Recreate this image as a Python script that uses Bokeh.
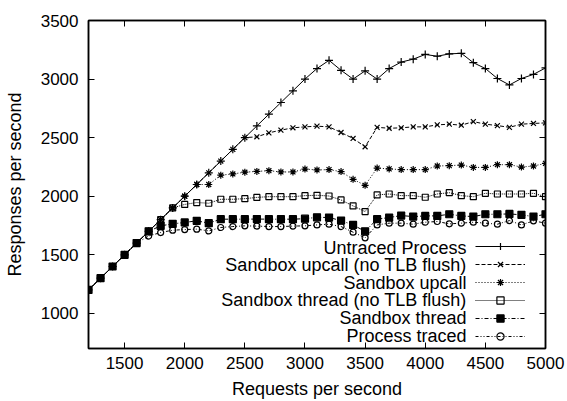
from bokeh.plotting import figure
from bokeh.models import (Range1d, FixedTicker, LinearAxis, Legend, LegendItem, Label)
from bokeh.core.properties import value
from bokeh.embed import file_html
from bokeh.resources import INLINE

FONT = "Liberation Sans"

requests = [1200, 1300, 1400, 1500, 1600, 1700, 1800, 1900, 2000, 2100,
            2200, 2300, 2400, 2500, 2600, 2700, 2800, 2900, 3000, 3100,
            3200, 3300, 3400, 3500, 3600, 3700, 3800, 3900, 4000, 4100,
            4200, 4300, 4400, 4500, 4600, 4700, 4800, 4900, 5000]

untraced = [1200, 1300, 1400, 1500, 1600, 1700, 1800, 1900, 2000, 2100,
            2200, 2300, 2400, 2500, 2600, 2700, 2800, 2900, 3000, 3090,
            3160, 3075, 3000, 3070, 3000, 3090, 3145, 3170, 3210, 3195,
            3215, 3220, 3140, 3090, 3005, 2950, 3005, 3040, 3095]

upcall_notlb = [1200, 1300, 1400, 1500, 1600, 1700, 1800, 1900, 2000, 2100,
                2200, 2300, 2400, 2500, 2507, 2541, 2564, 2584, 2592, 2598,
                2592, 2544, 2493, 2422, 2588, 2580, 2584, 2592, 2592, 2609,
                2615, 2606, 2637, 2615, 2603, 2588, 2615, 2621, 2626]

upcall = [1200, 1300, 1400, 1500, 1600, 1700, 1800, 1900, 2000, 2100,
          2100, 2180, 2190, 2205, 2212, 2218, 2207, 2207, 2232, 2224,
          2227, 2210, 2144, 2093, 2240, 2233, 2227, 2227, 2227, 2258,
          2261, 2266, 2246, 2246, 2269, 2269, 2249, 2258, 2280]

thread_notlb = [1200, 1300, 1400, 1500, 1600, 1700, 1800, 1900, 1930, 1946,
                1940, 1974, 1974, 1979, 1990, 1996, 1996, 1996, 2005, 2008,
                2002, 1968, 1917, 1869, 2011, 2019, 2005, 2005, 1991, 2019,
                2030, 2005, 1996, 2025, 2019, 2019, 2019, 2025, 1996]

thread = [1200, 1300, 1400, 1500, 1600, 1700, 1747, 1764, 1776, 1790,
          1770, 1804, 1804, 1804, 1805, 1804, 1804, 1804, 1808, 1820,
          1818, 1792, 1755, 1700, 1804, 1818, 1835, 1826, 1832, 1832,
          1846, 1832, 1826, 1846, 1846, 1849, 1841, 1826, 1846]

traced = [1200, 1300, 1400, 1500, 1600, 1660, 1690, 1710, 1715, 1719,
          1704, 1733, 1741, 1747, 1745, 1741, 1741, 1745, 1747, 1755,
          1761, 1741, 1693, 1645, 1755, 1770, 1770, 1761, 1778, 1784,
          1764, 1770, 1778, 1770, 1761, 1792, 1755, 1790, 1770]

labels = ["Untraced Process", "Sandbox upcall (no TLB flush)", "Sandbox upcall",
          "Sandbox thread (no TLB flush)", "Sandbox thread", "Process traced"]
x_title = "Requests per second"
y_title = "Responses per second"
x_ticks = [1500, 2000, 2500, 3000, 3500, 4000, 4500, 5000]
y_ticks = [1000, 1500, 2000, 2500, 3000, 3500]

p = figure(width=567, height=401, output_backend="svg", toolbar_location=None,
           x_range=Range1d(1200, 5000), y_range=Range1d(700, 3500),
           min_border_left=88, min_border_right=22, min_border_top=20,
           min_border_bottom=52)
p.grid.visible = False
p.outline_line_color = "black"
p.outline_line_width = 1.5
p.background_fill_color = "white"
p.border_fill_color = "white"

for ax, ticks in ((p.xaxis[0], x_ticks), (p.yaxis[0], y_ticks)):
    ax.ticker = FixedTicker(ticks=ticks)
    ax.major_tick_in = 6
    ax.major_tick_out = 0
    ax.minor_tick_line_color = None
    ax.axis_line_width = 1.5
    ax.major_tick_line_width = 1
    ax.major_label_text_font = FONT
    ax.major_label_text_font_size = "17px"
    ax.major_label_text_color = "black"
    ax.axis_label_text_font = FONT
    ax.axis_label_text_font_size = "18px"
    ax.axis_label_text_font_style = "normal"
    ax.axis_label_text_color = "black"

p.xaxis[0].axis_label = x_title
p.yaxis[0].axis_label = y_title
p.xaxis[0].major_label_standoff = 8
p.xaxis[0].axis_label_standoff = 7
p.yaxis[0].major_label_standoff = 10
p.yaxis[0].axis_label_standoff = 13

# mirrored ticks on top and right
for place, ticks in (("above", x_ticks), ("right", y_ticks)):
    ax = LinearAxis(ticker=FixedTicker(ticks=ticks))
    ax.major_tick_in = 6
    ax.major_tick_out = 0
    ax.minor_tick_line_color = None
    ax.axis_line_width = 1.5
    ax.major_label_text_color = None
    ax.major_label_text_font_size = "1px"
    ax.major_label_standoff = 0
    p.add_layout(ax, place)

series = [
    (untraced, "solid", "cross", "black", 8),
    (upcall_notlb, "4 2", "x", "black", 7),
    (upcall, "1 2", "asterisk", "black", 7),
    (thread_notlb, "1 1", "square", None, 6),
    (thread, "4 2 1 2", "square", "black", 7),
    (traced, "3 2 1 2 1 2", "circle", None, 6),
]

items = []
for (ys, dash, marker, fill, size), lab in zip(series, labels):
    r1 = p.line(requests, ys, line_color="black", line_width=1, line_dash=dash)
    r2 = p.scatter(requests, ys, marker=marker, size=size, line_color="black",
                   fill_color=fill, line_width=1.2)
    items.append(LegendItem(label=value(" "), renderers=[r1, r2]))

legend = Legend(items=items, location=(387, 3), glyph_width=50, glyph_height=18,
                label_height=18, label_width=0, spacing=0, padding=0, margin=0,
                label_standoff=0, label_text_font_size="1px",
                border_line_alpha=0, background_fill_alpha=0)
p.add_layout(legend)

row_y = [101, 83.4, 65.8, 48.2, 30.6, 13]
for lab, yy in zip(labels, row_y):
    p.add_layout(Label(x=378, y=yy, x_units="screen", y_units="screen", text=lab,
                       text_align="right", text_baseline="middle",
                       text_font=FONT, text_font_size="18px", text_color="black"))

open("out.html", "w").write(file_html(p, INLINE))
